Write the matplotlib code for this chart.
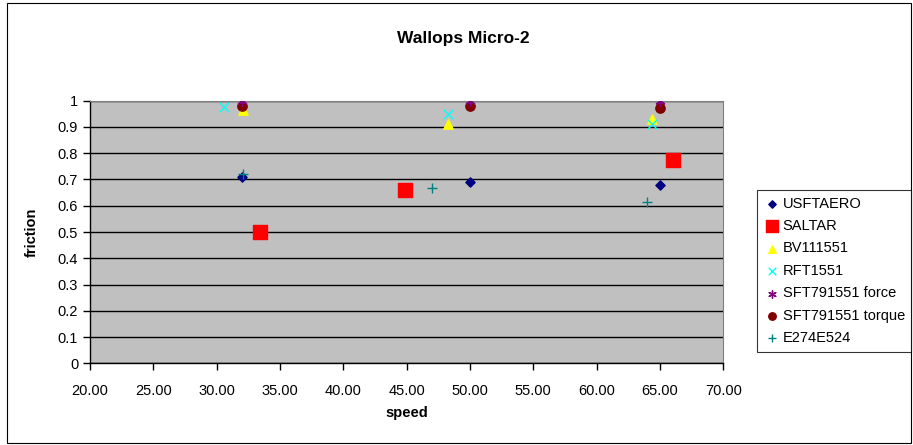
import matplotlib
matplotlib.use("Agg")
import matplotlib.pyplot as plt
from matplotlib.patches import Rectangle

plt.rcParams['font.family'] = ['Liberation Sans', 'DejaVu Sans']

# speed / friction pairs for each test series
usftaero_x = [32.0, 50.0, 65.0]
usftaero_y = [0.71, 0.69, 0.68]
saltar_x = [33.4, 44.9, 66.0]
saltar_y = [0.50, 0.66, 0.775]
bv_x = [32.1, 48.3, 64.4]
bv_y = [0.965, 0.91, 0.93]
rft_x = [30.6, 48.3, 64.4]
rft_y = [0.977, 0.95, 0.91]
sft_force_x = [32.0, 50.0, 65.0]
sft_force_y = [1.0, 1.0, 1.0]
sft_torque_x = [32.0, 50.0, 65.0]
sft_torque_y = [0.979, 0.978, 0.971]
e274_x = [32.1, 47.0, 64.0]
e274_y = [0.72, 0.668, 0.615]

xticks = [20, 25, 30, 35, 40, 45, 50, 55, 60, 65, 70]
yticks = [0, 0.1, 0.2, 0.3, 0.4, 0.5, 0.6, 0.7, 0.8, 0.9, 1]

fig = plt.figure(figsize=(9.13, 4.45), dpi=100)
ax = fig.add_axes([0.0986, 0.1836, 0.6936, 0.5901])
ax.set_facecolor('#C0C0C0')

ax.scatter(usftaero_x, usftaero_y, marker='D', s=22, color='#000080', label='USFTAERO', zorder=3)
ax.scatter(saltar_x, saltar_y, marker='s', s=110, color='#FF0000', label='SALTAR', zorder=3)
ax.scatter(bv_x, bv_y, marker='^', s=45, color='#FFFF00', label='BV111551', zorder=3)
ax.scatter(rft_x, rft_y, marker='x', s=45, color='#00FFFF', linewidths=1.0, label='RFT1551', zorder=3)
ax.scatter(sft_force_x, sft_force_y, marker=(6, 2, 0), s=45, color='#800080', linewidths=1.0,
           label='SFT791551 force', zorder=5)
ax.scatter(sft_torque_x, sft_torque_y, marker='o', s=45, color='#800000', label='SFT791551 torque', zorder=4)
ax.scatter(e274_x, e274_y, marker='+', s=55, color='#008080', linewidths=1.0, label='E274E524', zorder=3)

ax.set_xlim(20, 70)
ax.set_ylim(0, 1)
ax.set_xticks(xticks)
ax.set_xticklabels(['%.2f' % v for v in xticks])
ax.set_yticks(yticks)
ax.set_yticklabels(['0', '0.1', '0.2', '0.3', '0.4', '0.5', '0.6', '0.7', '0.8', '0.9', '1'])
ax.tick_params(axis='both', labelsize=10.5, direction='out', length=5, width=1, color='black')
ax.tick_params(axis='x', pad=10)

ax.yaxis.grid(True, color='black', linewidth=1)
ax.set_axisbelow(True)
for side in ['top', 'right']:
    ax.spines[side].set_color('#808080')
for side in ['left', 'bottom']:
    ax.spines[side].set_color('black')
    ax.spines[side].set_linewidth(1)

ax.set_xlabel('speed', fontsize=10.5, fontweight='bold', labelpad=6)
ax.set_ylabel('friction', fontsize=10.5, fontweight='bold', labelpad=14)
fig.text(463 / 913, 1 - 38 / 445, 'Wallops Micro-2', ha='center', va='center',
         fontsize=12.5, fontweight='bold')

leg = fig.legend(*ax.get_legend_handles_labels(), loc='upper left',
                 bbox_to_anchor=(757 / 913, 1 - 190 / 445), frameon=True, fancybox=False,
                 fontsize=10.5, handletextpad=0.1, handlelength=1.2, borderpad=0.45,
                 labelspacing=0.58, markerscale=0.8, borderaxespad=0)
leg.get_frame().set_edgecolor('black')
leg.get_frame().set_linewidth(0.8)

# thin border round the whole chart
fig.patches.append(Rectangle((7 / 913, 2 / 445), 904 / 913, 440 / 445, transform=fig.transFigure,
                             fill=False, edgecolor='black', linewidth=0.8))

fig.savefig('out.png', dpi=100)
